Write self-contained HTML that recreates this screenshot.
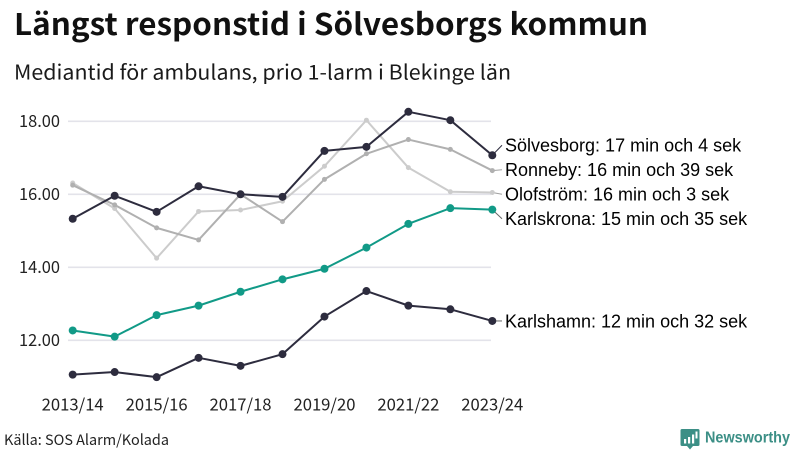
<!DOCTYPE html>
<html lang="sv">
<head>
<meta charset="utf-8">
<title>Längst responstid i Sölvesborgs kommun</title>
<style>
html,body{margin:0;padding:0;background:#fff;width:800px;height:450px;overflow:hidden}
svg{display:block}
.os{font-family:"Noto Sans CJK SC","Liberation Sans",sans-serif}
.lab{font-family:"Liberation Sans",Arial,sans-serif}
</style>
</head>
<body>
<svg id="chart" xmlns="http://www.w3.org/2000/svg" width="800" height="450" viewBox="0 0 800 450">
  <rect width="800" height="450" fill="#fff"/>
  <text class="os" x="14" y="35" font-size="30" font-weight="700" fill="#111" textLength="634" lengthAdjust="spacingAndGlyphs">Längst responstid i Sölvesborgs kommun</text>
  <text class="os" x="14" y="79.5" font-size="20.5" fill="#1a1a1a" textLength="497" lengthAdjust="spacingAndGlyphs">Mediantid för ambulans, prio 1-larm i Blekinge län</text>
  <g id="grid"></g>
  <g id="yaxis"></g>
  <g id="xaxis"></g>
  <g id="connectors"></g>
  <g id="series"></g>
  <g id="labels"></g>
  <text class="os" x="4" y="445" font-size="14.5" fill="#222" textLength="165" lengthAdjust="spacingAndGlyphs">Källa: SOS Alarm/Kolada</text>
  <g>
    <path d="M682 429h16a1.5 1.5 0 0 1 1.500 1.500v14a1.500 1.500 0 0 1-1.500 1.500h-5l-3 3.500-3-3.500h-5a1.500 1.500 0 0 1-1.500-1.500v-14a1.500 1.500 0 0 1 1.500-1.500z" fill="#3c8f86"/>
    <rect x="684" y="439" width="2.200" height="4.500" fill="#fff"/>
    <rect x="688" y="437" width="2.200" height="6.500" fill="#fff"/>
    <rect x="692" y="434.500" width="2.200" height="9" fill="#fff"/>
    <rect x="695.500" y="431.500" width="2" height="7" fill="#fff"/>
    <text class="lab" x="705" y="442.500" font-size="15.500" font-weight="700" fill="#3c8f86" textLength="85" lengthAdjust="spacingAndGlyphs">Newsworthy</text>
  </g>
</svg>
<script>
const categories = ["2013/14","2014/15","2015/16","2016/17","2017/18","2018/19","2019/20","2020/21","2021/22","2022/23","2023/24"];
const yTicks = [12, 14, 16, 18];
const olofstrom = [16.31,15.61,14.25,15.53,15.57,15.81,16.77,18.03,16.73,16.07,16.05];
const ronneby = [16.25,15.71,15.08,14.75,16.00,15.25,16.41,17.11,17.50,17.23,16.65];
const solvesborg = [15.33,15.96,15.52,16.22,16.00,15.93,17.19,17.30,18.26,18.03,17.07];
const karlskrona = [12.27,12.10,12.69,12.95,13.33,13.67,13.96,14.54,15.19,15.62,15.58];
const karlshamn = [11.06,11.13,10.99,11.52,11.30,11.62,12.65,13.35,12.95,12.85,12.53];
const seriesNames = ["Olofström","Ronneby","Sölvesborg","Karlskrona","Karlshamn"];
const seriesValues = [olofstrom,ronneby,solvesborg,karlskrona,karlshamn];
const seriesLabels = ["16 min och 3 sek","16 min och 39 sek","17 min och 4 sek","15 min och 35 sek","12 min och 32 sek"];
const seriesColors = ["#cccccc","#b0b0b0","#2d2c3e","#119a87","#2d2c3e"];

const NS = "http://www.w3.org/2000/svg";
function x(i){ return 72.7 + i * 41.96; }
function y(v){ return 340.3 - (v - 12) * 36.5; }
function make(tag, attrs, parent, text){
  const el = document.createElementNS(NS, tag);
  for (const k in attrs) el.setAttribute(k, attrs[k]);
  if (text !== undefined) el.textContent = text;
  parent.appendChild(el);
  return el;
}
function slug(s){
  return s.toLowerCase().replace(/ö/g,"o").replace(/[^a-z0-9]+/g,"-");
}

const gridG = document.getElementById("grid");
const yG = document.getElementById("yaxis");
const xG = document.getElementById("xaxis");
const connG = document.getElementById("connectors");
const seriesG = document.getElementById("series");
const labelG = document.getElementById("labels");

yTicks.forEach(function(t){
  const line = make("line", {x1:68, x2:491, y1:y(t), y2:y(t), stroke:"#e3e3ea", "stroke-width":1.6}, gridG);
  
  
  const lab = make("text", {x:19, y:y(t)+5.6, "font-size":16.5, fill:"#222", class:"os", textLength:41, lengthAdjust:"spacingAndGlyphs"}, yG, t.toFixed(2));
  
  
});

categories.forEach(function(c, i){
  if (i % 2) return;
  const lab = make("text", {x:x(i)-31, y:410.5, "font-size":16.5, fill:"#222", class:"os", textLength:62, lengthAdjust:"spacingAndGlyphs"}, xG, c);
  
  
});

/* Place the end labels by separating them vertically around their cluster mean. */
const gap = 24.5;
function placeLabels(){
  const order = seriesValues.map(function(v, i){ return {i:i, y:y(v[v.length-1])}; })
    .sort(function(a, b){ return a.y - b.y; });
  let clusters = order.map(function(o){ return {items:[o], mean:o.y}; });
  let merged = true;
  while (merged){
    merged = false;
    for (let k = 0; k < clusters.length - 1; k++){
      const a = clusters[k], b = clusters[k+1];
      const aEnd = a.mean + (a.items.length - 1) * gap / 2;
      const bStart = b.mean - (b.items.length - 1) * gap / 2;
      if (bStart - aEnd < gap){
        const items = a.items.concat(b.items);
        const mean = items.reduce(function(s, o){ return s + o.y; }, 0) / items.length;
        clusters.splice(k, 2, {items:items, mean:mean});
        merged = true;
        break;
      }
    }
  }
  const pos = [];
  clusters.forEach(function(c){
    c.items.forEach(function(o, j){
      pos[o.i] = c.mean + (j - (c.items.length - 1) / 2) * gap;
    });
  });
  return pos;
}
const labelY = placeLabels();

seriesValues.forEach(function(vals, s){
  const name = slug(seriesNames[s]);
  const last = vals.length - 1;
  const big = s >= 2;

  const conn = make("line", {x1:x(last), y1:y(vals[last]), x2:502, y2:labelY[s], stroke:s===2?"#2d2c3e":(s<2?"#a0a0a0":"#666"), "stroke-width":1}, connG);
  
  

  const g = make("g", {}, seriesG);
  
  
  const pts = vals.map(function(v, i){ return x(i).toFixed(2) + "," + y(v).toFixed(2); }).join(" ");
  const pl = make("polyline", {points:pts, fill:"none", stroke:seriesColors[s], "stroke-width":2, "stroke-linejoin":"round"}, g);
  
  
  pl.setAttribute('data-series', name);
  vals.forEach(function(v, i){
    const c = make("circle", {cx:x(i), cy:y(v), r:big?4:2.5, fill:seriesColors[s]}, g);
    
    
  });

  const lab = make("text", {x:505, y:labelY[s]+6.3, "font-size":18, fill:"#000", class:"lab"}, labelG, seriesNames[s] + ": " + seriesLabels[s]);
  
  
});
</script>
</body>
</html>
